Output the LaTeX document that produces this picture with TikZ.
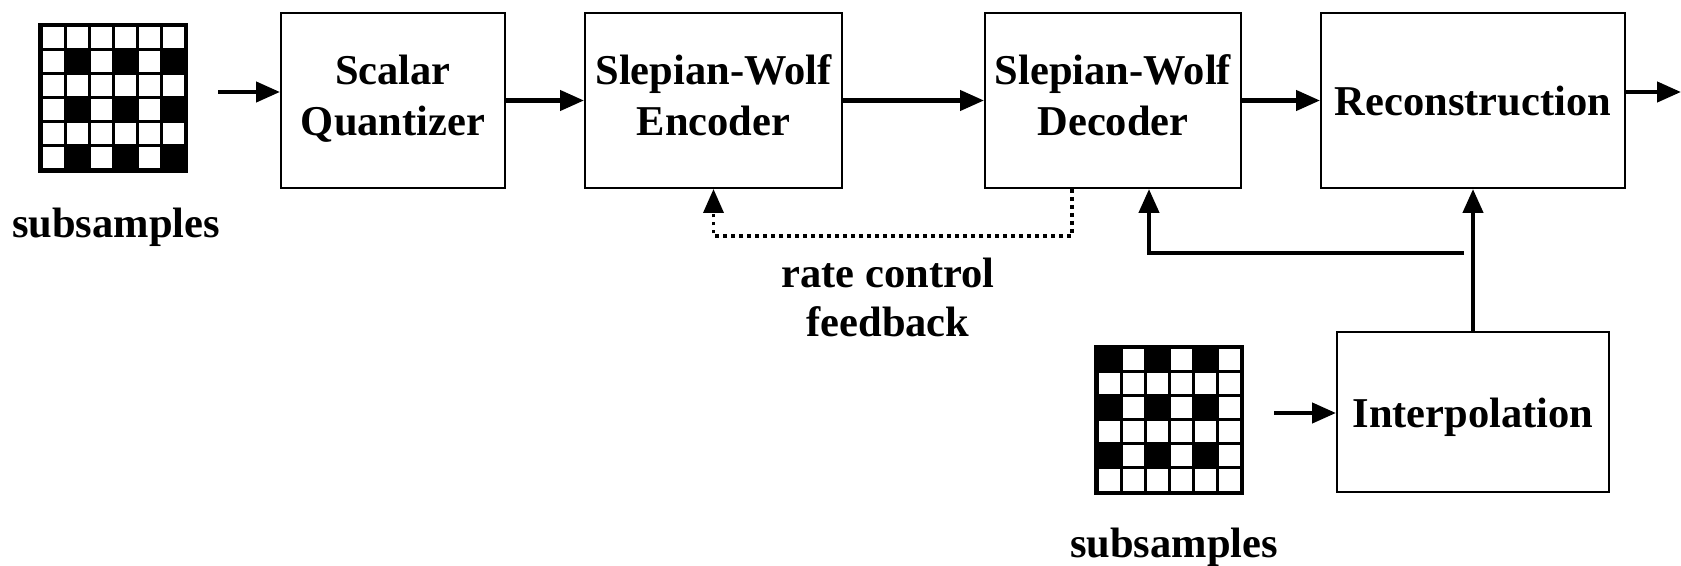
\documentclass[tikz,border=0pt]{standalone}
\usepackage{fontspec}
\setmainfont{Liberation Serif}
\usetikzlibrary{arrows.meta}
% fixed line height and depth so every block sets its text on the same baselines
\newcommand\boxstrut{\rule[-5pt]{0pt}{25.5pt}}
\tikzset{
  pics/sgrid/.style={code={
    \fill[black] (0,0) rectangle (150,150);
    \foreach \r in {0,...,5} \foreach \c in {0,...,5}
      \fill[white] ({4.5+24*\c},{4.5+24*\r}) rectangle ++(21,21);
    \foreach \r in {#1} \foreach \c in {#1}
      \fill[black] ({4.5+24*\c},{4.5+24*\r}) rectangle ++(21,21);
  }}
}
\begin{document}
\begin{tikzpicture}[x=0.5pt,y=-0.5pt,
  every node/.style={font=\fontsize{21.25}{25}\selectfont\bfseries},
  blk/.style={draw, line width=1pt, inner sep=0pt, align=center,
              font=\fontsize{21.25}{25.5}\selectfont\bfseries,
              execute at begin node=\boxstrut, execute at end node=\boxstrut},
  arr/.style={line width=2.2pt, -{Triangle[length=12pt,width=10pt]}},
  fb/.style={line width=1.8pt, dash pattern=on 1.8pt off 2.2pt,
             -{Triangle[length=12pt,width=10pt]}},
  lbl/.style={inner sep=0pt, align=center, font=\fontsize{21.25}{24.5}\selectfont\bfseries}
]
\useasboundingbox (0,0) rectangle (1681,566);

% sample grids
\pic at (38,23) {sgrid={1,3,5}};
\pic at (1094,345) {sgrid={0,2,4}};

% processing blocks
\node[blk, minimum width=112pt,   minimum height=87.5pt] (sq)     at (393,100.5)   {Scalar\\Quantizer};
\node[blk, minimum width=128.5pt, minimum height=87.5pt] (swe)    at (713.5,100.5) {Slepian-Wolf\\Encoder};
\node[blk, minimum width=128pt,   minimum height=87.5pt] (swd)    at (1113,100.5)  {Slepian-Wolf\\Decoder};
\node[blk, minimum width=152pt,   minimum height=87.5pt] (rec)    at (1473,100.5)  {Reconstruction};
\node[blk, minimum width=136pt,   minimum height=80pt]   (interp) at (1473,412)    {Interpolation};

% labels
\node[anchor=base] (subL) at (116,238) {subsamples};
\node[anchor=base] (subR) at (1174,557) {subsamples};
\node[lbl, anchor=north] (rcf) at (888,258) {rate control\\feedback};

% main chain
\coordinate (inL) at (218,92);
\coordinate (outR) at (1681,92);
\draw[arr] (inL) -- (sq.west |- inL);
\draw[arr] (sq.east) -- (swe.west);
\draw[arr] (swe.east) -- (swd.west);
\draw[arr] (swd.east) -- (rec.west);
\draw[arr] (rec.east |- outR) -- (outR);

% rate control feedback
\draw[fb] ([xshift=-20.5pt]swd.south) -- ++(0,47) -| (swe.south);

% side information
\coordinate (inR) at (1274,413);
\coordinate (siB) at (1464,253);
\draw[arr] (inR) -- (interp.west |- inR);
\draw[arr] (interp.north) -- (rec.south);
\draw[arr] (siB) -| ([xshift=18pt]swd.south);
\end{tikzpicture}
\end{document}
